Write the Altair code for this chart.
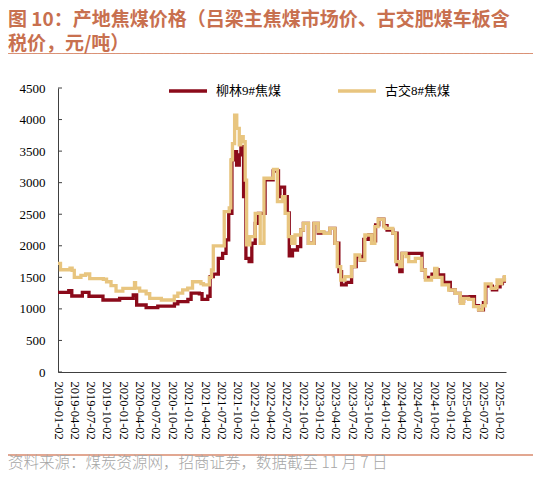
import altair as alt
import pandas as pd

# 柳林9#焦煤
ll_dates = [
    "2019-01-02", "2019-03-03", "2019-03-20", "2019-05-18", "2019-06-24", "2019-09-10",
    "2019-12-12", "2020-02-26", "2020-03-16", "2020-05-08", "2020-07-12", "2020-10-13",
    "2020-11-01", "2020-12-27", "2021-01-14", "2021-03-01", "2021-03-16", "2021-04-17",
    "2021-04-30", "2021-05-18", "2021-06-15", "2021-07-09", "2021-07-28", "2021-08-12",
    "2021-08-30", "2021-09-12", "2021-09-25", "2021-10-10", "2021-10-19", "2021-11-03",
    "2021-11-16", "2021-12-04", "2021-12-19", "2022-01-07", "2022-01-25", "2022-03-03",
    "2022-04-17", "2022-05-17", "2022-05-25", "2022-06-20", "2022-07-05", "2022-07-16",
    "2022-08-03", "2022-08-31", "2022-09-18", "2022-10-03", "2022-10-31", "2022-12-01",
    "2022-12-25", "2023-01-26", "2023-02-27", "2023-03-28", "2023-04-19", "2023-05-04",
    "2023-05-30", "2023-06-29", "2023-07-25", "2023-08-18", "2023-09-05", "2023-10-03",
    "2023-10-25", "2023-11-10", "2023-11-28", "2023-12-26", "2024-01-13", "2024-02-14",
    "2024-03-09", "2024-03-24", "2024-04-06", "2024-07-17", "2024-07-26", "2024-08-14",
    "2024-09-20", "2024-10-05", "2024-10-24", "2024-11-24", "2024-12-31", "2025-01-28",
    "2025-02-25", "2025-03-15", "2025-04-21", "2025-05-15", "2025-06-07", "2025-07-04",
    "2025-07-17", "2025-08-23", "2025-09-16", "2025-10-05", "2025-10-18", "2025-10-29",
    "2025-11-07",
]
ll_vals = [
    1263, 1290, 1204, 1263, 1200, 1141,
    1168, 1220, 1062, 1019, 1045, 1080,
    1114, 1150, 1250, 1240, 1152, 1200,
    1510, 1550, 1800, 1880, 2092, 2515,
    3360, 3490, 3280, 3440, 3570, 2780,
    1800, 1748, 2040, 2356, 2515, 3043,
    3185, 2780, 2930, 2780, 2520, 1840,
    1933, 1986, 2250, 2356, 2040, 2356,
    2200, 2198, 2277, 2040, 1590, 1379,
    1420, 1669, 1830, 1775, 2100, 2171,
    2080, 2330, 2420, 2320, 2250, 2200,
    1700, 1590, 1880, 1880, 1616, 1500,
    1550, 1620, 1540, 1420, 1300, 1247,
    1120, 1190, 1194, 1050, 983, 1100,
    1360, 1300, 1350, 1400, 1440, 1500,
    1500,
]

# 古交8#焦煤
gj_dates = [
    "2019-01-02", "2019-01-16", "2019-03-10", "2019-03-22", "2019-04-03", "2019-05-10",
    "2019-06-05", "2019-06-28", "2019-09-12", "2019-09-30", "2019-10-25", "2019-11-22",
    "2019-12-30", "2020-03-04", "2020-03-10", "2020-04-02", "2020-05-08", "2020-05-28",
    "2020-08-01", "2020-10-12", "2020-11-01", "2020-11-28", "2020-12-26", "2021-01-22",
    "2021-03-10", "2021-03-24", "2021-04-26", "2021-05-08", "2021-05-18", "2021-07-10",
    "2021-07-18", "2021-08-15", "2021-08-24", "2021-09-02", "2021-09-14", "2021-09-26",
    "2021-10-10", "2021-10-19", "2021-11-01", "2021-11-12", "2021-11-20", "2021-12-08",
    "2022-01-07", "2022-02-04", "2022-02-25", "2022-04-19", "2022-05-11", "2022-06-08",
    "2022-06-23", "2022-07-11", "2022-07-30", "2022-08-17", "2022-09-18", "2022-10-03",
    "2022-10-31", "2022-12-01", "2022-12-25", "2023-01-26", "2023-02-27", "2023-03-28",
    "2023-04-10", "2023-04-29", "2023-05-23", "2023-06-29", "2023-07-18", "2023-08-14",
    "2023-09-11", "2023-10-18", "2023-11-06", "2023-11-24", "2023-12-26", "2024-01-05",
    "2024-02-14", "2024-03-01", "2024-03-24", "2024-04-06", "2024-04-28", "2024-05-13",
    "2024-06-19", "2024-07-23", "2024-08-14", "2024-09-17", "2024-10-05", "2024-10-18",
    "2024-11-15", "2024-12-22", "2025-01-28", "2025-02-25", "2025-03-15", "2025-04-12",
    "2025-05-10", "2025-06-07", "2025-06-29", "2025-07-14", "2025-08-16", "2025-09-11",
    "2025-09-18", "2025-10-01", "2025-10-14", "2025-10-29", "2025-11-07",
]
gj_vals = [
    1720, 1620, 1645, 1610, 1500, 1530,
    1553, 1480, 1470, 1430, 1370, 1280,
    1326, 1415, 1330, 1280, 1240, 1168,
    1141, 1200, 1250, 1300, 1330, 1430,
    1400, 1379, 1500, 1616, 2000, 2000,
    2540, 2600, 3360, 3620, 4070, 3860,
    3600, 3730, 3650, 3040, 2013, 2145,
    2515, 2040, 3070, 3210, 2700, 2780,
    2515, 2145, 2040, 2171, 2250, 2356,
    2040, 2356, 2224, 2198, 2277, 2040,
    1669, 1458, 1511, 1669, 1854, 1775,
    2171, 2040, 2303, 2420, 2300, 2277,
    2200, 1748, 1669, 1880, 1828, 1750,
    1800, 1616, 1458, 1500, 1643, 1500,
    1379, 1299, 1247, 1088, 1167, 1150,
    1035, 983, 1050, 1395, 1326, 1340,
    1458, 1400, 1458, 1511, 1511,
]

series_names = ["柳林9#焦煤", "古交8#焦煤"]
series_colors = ["#8B0A1A", "#E8C57F"]
y_ticks = [0, 500, 1000, 1500, 2000, 2500, 3000, 3500, 4000, 4500]
x_tick_years = [2019] * 4 + [2020] * 4 + [2021] * 4 + [2022] * 4 + [2023] * 4 + [2024] * 4 + [2025] * 4
x_tick_months = [1, 4, 7, 10] * 7

title_line1 = "图 10：产地焦煤价格（吕梁主焦煤市场价、古交肥煤车板含"
title_line2 = "税价，元/吨）"
footer_text = "资料来源：煤炭资源网，招商证券，数据截至 11 月 7 日"

df = pd.concat([
    pd.DataFrame({"date": ll_dates, "price": ll_vals, "series": series_names[0]}),
    pd.DataFrame({"date": gj_dates, "price": gj_vals, "series": series_names[1]}),
])

x_values = [alt.DateTime(year=y, month=m, date=2, utc=True)
            for y, m in zip(x_tick_years, x_tick_months)]

SERIF = "Liberation Serif"
PLOT_W, PLOT_H = 448, 284

x_enc = alt.X(
    "date:T",
    scale=alt.Scale(type="utc", domain=[alt.DateTime(year=2019, month=1, date=2, utc=True),
                                         alt.DateTime(year=2025, month=11, date=7, utc=True)]),
    axis=alt.Axis(values=x_values, format="%Y-%m-%d", labelAngle=90, title=None,
                  ticks=False, grid=False, labelPadding=9, labelFontSize=12.5,
                  labelFont=SERIF, labelColor="#000000",
                  domainColor="#404040", labelOverlap=False, labelFlush=False),
)
y_axis = alt.Axis(values=y_ticks, format="d", title=None, ticks=False, grid=False,
                  labelPadding=13, labelFontSize=13, labelFont=SERIF, labelColor="#000000",
                  domainColor="#404040", labelOverlap=False, labelFlush=False)
y_scale = alt.Scale(domain=[0, 4500], nice=False)
y_enc = alt.Y("price:Q", scale=y_scale, axis=y_axis)

color_enc = alt.Color(
    "series:N",
    scale=alt.Scale(domain=series_names, range=series_colors),
    legend=alt.Legend(orient="none", legendX=109, legendY=-18, direction="horizontal",
                      title=None, symbolType="stroke", symbolSize=1444, symbolStrokeWidth=3.5,
                      labelFont="Liberation Serif, Noto Sans CJK SC", labelFontSize=13,
                      labelColor="#000000", labelOffset=7, columnPadding=49, padding=0),
)

base = alt.Chart(df)
line_ll = base.transform_filter(alt.datum.series == series_names[0]).mark_line(
    strokeWidth=3.3, interpolate="step-after").encode(x=x_enc, y=y_enc, color=color_enc)
line_gj = base.transform_filter(alt.datum.series == series_names[1]).mark_line(
    strokeWidth=3.3, interpolate="step-after").encode(x=x_enc, y=y_enc, color=color_enc)

ticks = alt.Chart(pd.DataFrame({"price": y_ticks})).mark_rule(
    color="#404040", strokeWidth=1).encode(y=y_enc, x=alt.value(0), x2=alt.value(4))

t1 = alt.Chart(pd.DataFrame({"t": [title_line1]})).mark_text(
    align="left", baseline="middle", font="Noto Sans CJK SC", fontWeight="bold",
    fontSize=19, color="#C8704F").encode(text="t:N", x=alt.value(-50), y=alt.value(-68))
t2 = alt.Chart(pd.DataFrame({"t": [title_line2]})).mark_text(
    align="left", baseline="middle", font="Noto Sans CJK SC", fontWeight="bold",
    fontSize=19, color="#C8704F").encode(text="t:N", x=alt.value(-50), y=alt.value(-44))
# title underline drawn as a run of underscores (rules above the plot did not render)
u1 = alt.Chart(pd.DataFrame({"a": [1]})).mark_text(
    align="left", baseline="middle", font="DejaVu Sans", fontSize=12, color="#D88A6C",
    text="_" * 88).encode(x=alt.value(-50), y=alt.value(-41))
u2 = alt.Chart(pd.DataFrame({"b": [2]})).mark_rule(
    color="#D88A6C", strokeWidth=1.5).encode(
    x=alt.value(-50), x2=alt.value(475), y=alt.value(367))
ft = alt.Chart(pd.DataFrame({"t": [footer_text]})).mark_text(
    align="left", baseline="middle", font="Noto Sans CJK SC", fontWeight=300,
    fontSize=15.5, color="#A6A6A6").encode(text="t:N", x=alt.value(-50), y=alt.value(375))

chart = alt.layer(u1, u2, line_ll, line_gj, ticks, t1, t2, ft).properties(
    width=PLOT_W, height=PLOT_H,
    padding={"left": 50, "top": 80, "right": 27, "bottom": 100},
    autosize=alt.AutoSizeParams(type="none"),
).configure_view(stroke=None).configure_axis(labelFont=SERIF)

chart.save("out.html", embed_options={"renderer": "svg", "actions": False})
